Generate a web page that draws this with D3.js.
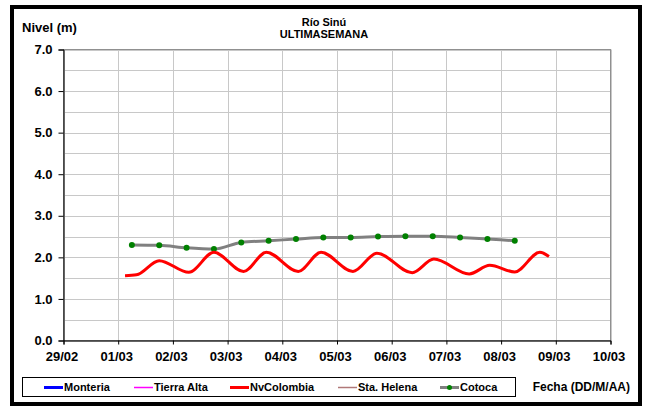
<!DOCTYPE html>
<html><head><meta charset="utf-8">
<script src="https://cdn.jsdelivr.net/npm/d3@7"></script>
<style>
body{margin:0;background:#fff}
svg{display:block}
text{font-family:"Liberation Sans",Arial,sans-serif;font-weight:bold;fill:#000}
</style>
</head><body>
<svg id="chart" width="650" height="406"></svg>
<script>
// ---- data ----
const titleLines = ["Río Sinú", "ULTIMASEMANA"];
const yAxisTitle = "Nivel (m)";
const xAxisTitle = "Fecha (DD/M/AA)";
const xTickDates = ["2016-02-29","2016-03-01","2016-03-02","2016-03-03","2016-03-04","2016-03-05",
                    "2016-03-06","2016-03-07","2016-03-08","2016-03-09","2016-03-10"];
const yTickValues = [0,1,2,3,4,5,6,7];
const yGridValues = [0,0.5,1,1.5,2,2.5,3,3.5,4,4.5,5,5.5,6,6.5,7];
const seriesNames = ["Monteria","Tierra Alta","NvColombia","Sta. Helena","Cotoca"];
const seriesColors = ["#0000ff","#ff00ff","#ff0000","#b07878","#808080"];
const seriesWidths = [3,1.5,3,1.5,3];

const nvColombiaTimes = ["2016-03-01 03:00","2016-03-01 08:00","2016-03-01 18:00","2016-03-02 07:00",
  "2016-03-02 18:00","2016-03-03 07:00","2016-03-03 17:00","2016-03-04 07:00","2016-03-04 17:00",
  "2016-03-05 07:00","2016-03-05 17:30","2016-03-06 09:00","2016-03-06 18:30","2016-03-07 10:00",
  "2016-03-07 19:00","2016-03-08 06:00","2016-03-08 17:00","2016-03-08 21:00"];
const nvColombiaLevels = [1.56,1.58,1.92,1.64,2.12,1.66,2.12,1.66,2.12,1.66,2.10,1.63,1.96,1.60,1.81,1.65,2.12,2.02];

const cotocaTimes = ["2016-03-01 06:00","2016-03-01 18:00","2016-03-02 06:00","2016-03-02 18:00",
  "2016-03-03 06:00","2016-03-03 18:00","2016-03-04 06:00","2016-03-04 18:00","2016-03-05 06:00",
  "2016-03-05 18:00","2016-03-06 06:00","2016-03-06 18:00","2016-03-07 06:00","2016-03-07 18:00",
  "2016-03-08 06:00"];
const cotocaLevels = [2.30,2.29,2.23,2.20,2.36,2.40,2.44,2.48,2.48,2.50,2.51,2.51,2.48,2.44,2.40];

// ---- drawing ----
const parseT = d3.timeParse("%Y-%m-%d %H:%M");
const parseD = d3.timeParse("%Y-%m-%d");
const fmt = d3.timeFormat("%d/%m");
const svg = d3.select("#chart");
const L = 63.5, R = 610.5, T = 49.5, B = 340.5;

const ticks = xTickDates.map(parseD);
const x = d3.scaleTime().domain([ticks[0], ticks[ticks.length-1]]).range([L, R]);
const y = d3.scaleLinear().domain([0, 7]).range([B, T]);

svg.append("rect").attr("width",650).attr("height",406).attr("fill","#fff");
// outer frame
svg.append("rect").attr("x",12).attr("y",7).attr("width",628).attr("height",397)
  .attr("fill","none").attr("stroke","#000").attr("stroke-width",4);

// grid
svg.append("g").selectAll("line").data(yGridValues).join("line")
  .attr("x1",L).attr("x2",R).attr("y1",d=>Math.round(y(d))+0.5).attr("y2",d=>Math.round(y(d))+0.5)
  .attr("stroke","#c8c8c8").attr("stroke-width",1);
svg.append("g").selectAll("line").data(ticks).join("line")
  .attr("x1",d=>Math.round(x(d))+0.5).attr("x2",d=>Math.round(x(d))+0.5).attr("y1",T).attr("y2",B)
  .attr("stroke","#c8c8c8").attr("stroke-width",1);
// plot border
svg.append("rect").attr("x",L).attr("y",T).attr("width",R-L).attr("height",B-T)
  .attr("fill","none").attr("stroke","#909090").attr("stroke-width",1);

// axes
const yAxis = svg.append("g").attr("transform",`translate(${L},0)`)
  .call(d3.axisLeft(y).tickValues(yTickValues).tickSize(5).tickPadding(6).tickFormat(d3.format(".1f")));
const xAxis = svg.append("g").attr("transform",`translate(0,${B})`)
  .call(d3.axisBottom(x).tickValues(ticks).tickSize(4).tickPadding(7).tickFormat(fmt));
[yAxis,xAxis].forEach(g=>{
  g.select(".domain").attr("stroke","#000");
  g.selectAll(".tick line").attr("stroke","#000");
  g.selectAll("text").style("font-size","13px").style("font-family",'"Liberation Sans",Arial,sans-serif').style("font-weight","bold").attr("fill","#000");
});
xAxis.selectAll("text").attr("dx","-2");

// series
const nvData = nvColombiaTimes.map((t,i)=>({t:parseT(t), v:nvColombiaLevels[i]}));
const coData = cotocaTimes.map((t,i)=>({t:parseT(t), v:cotocaLevels[i]}));
const line = d3.line().x(d=>x(d.t)).y(d=>y(d.v)).curve(d3.curveMonotoneX);
svg.append("path").datum(coData).attr("d",line).attr("fill","none")
  .attr("stroke",seriesColors[4]).attr("stroke-width",3);
svg.append("g").selectAll("circle").data(coData).join("circle")
  .attr("cx",d=>x(d.t)).attr("cy",d=>y(d.v)).attr("r",3).attr("fill","#008000");
svg.append("path").datum(nvData).attr("d",line).attr("fill","none")
  .attr("stroke",seriesColors[2]).attr("stroke-width",3).attr("stroke-linejoin","round");

// titles
svg.append("text").attr("x",324).attr("y",26).attr("text-anchor","middle").style("font-size","11px").text(titleLines[0]);
svg.append("text").attr("x",324).attr("y",38).attr("text-anchor","middle").style("font-size","11px").text(titleLines[1]);
svg.append("text").attr("x",22).attr("y",32).style("font-size","13px").text(yAxisTitle);
svg.append("text").attr("x",630).attr("y",391).attr("text-anchor","end").style("font-size","12px").text(xAxisTitle);

// legend
svg.append("rect").attr("x",22.5).attr("y",377.5).attr("width",493).attr("height",19)
  .attr("fill","#fff").attr("stroke","#000").attr("stroke-width",1);
const legendX = [44,134,230,338,440];
const lg = svg.append("g").selectAll("g").data(seriesNames).join("g")
  .attr("transform",(d,i)=>`translate(${legendX[i]},387.5)`);
lg.append("line").attr("x1",0).attr("x2",19).attr("y1",0).attr("y2",0)
  .attr("stroke",(d,i)=>seriesColors[i]).attr("stroke-width",(d,i)=>seriesWidths[i]);
lg.filter((d,i)=>i===4).append("circle").attr("cx",9.5).attr("cy",0).attr("r",2.5).attr("fill","#008000");
lg.append("text").attr("x",20).attr("y",0).attr("dy","0.35em").style("font-size","11px").text(d=>d);
</script>
</body></html>
